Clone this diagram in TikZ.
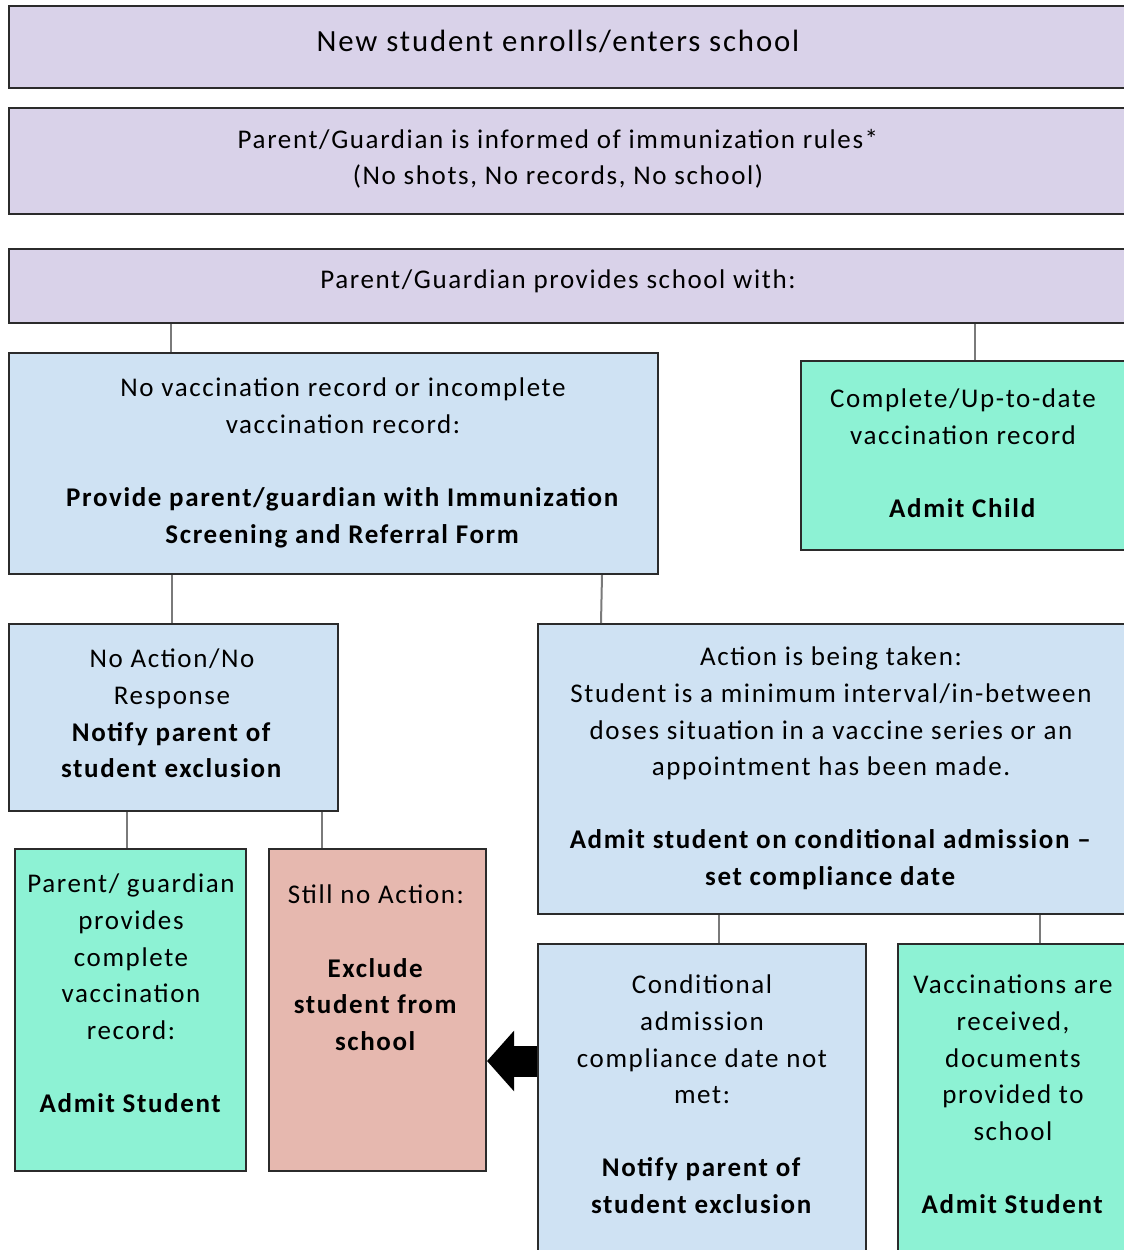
\documentclass[tikz,border=0pt]{standalone}
\usepackage{fontspec}
\setmainfont{Carlito}[LetterSpace=6]
\usetikzlibrary{arrows.meta}
\definecolor{lav}{HTML}{D9D2E9}
\definecolor{pale}{HTML}{CFE2F3}
\definecolor{mint}{HTML}{8DF2D4}
\definecolor{rose}{HTML}{E6B8AF}
\definecolor{boxline}{HTML}{2B2B2B}
\definecolor{linkgray}{HTML}{7A7A7A}
\begin{document}
\begin{tikzpicture}[x=1pt,y=-1pt,
  box/.style={draw=boxline, line width=2pt, inner sep=0pt, anchor=north west},
  txt/.style={align=center, inner sep=0pt, anchor=north, font=\fontsize{27}{36.6}\selectfont},
  link/.style={draw=linkgray, line width=2pt}]
\clip (0,0) rectangle (1124,1250);
\fill[white] (0,0) rectangle (1124,1250);

% boxes
\node[box, fill=lav,  minimum width=1140pt, minimum height=82pt]  (b1)  at (8,5) {};
\node[box, fill=lav,  minimum width=1140pt, minimum height=106pt] (b2)  at (8,107) {};
\node[box, fill=lav,  minimum width=1140pt, minimum height=74pt]  (b3)  at (8,248) {};
\node[box, fill=pale, minimum width=649pt,  minimum height=221pt] (b4)  at (8,352) {};
\node[box, fill=mint, minimum width=340pt,  minimum height=189pt] (b5)  at (800,360) {};
\node[box, fill=pale, minimum width=329pt,  minimum height=187pt] (b6)  at (8,623) {};
\node[box, fill=pale, minimum width=600pt,  minimum height=290pt] (b7)  at (537,623) {};
\node[box, fill=mint, minimum width=231pt,  minimum height=322pt] (b8)  at (14,848) {};
\node[box, fill=rose, minimum width=217pt,  minimum height=322pt] (b9)  at (268,848) {};
\node[box, fill=pale, minimum width=328pt,  minimum height=330pt] (b10) at (537,943) {};
\node[box, fill=mint, minimum width=240pt,  minimum height=330pt] (b11) at (897,943) {};

% connectors
\draw[link] (b3.south -| 171,0) -- (b4.north -| 171,0);
\draw[link] (b3.south -| 975,0) -- (b5.north -| 975,0);
\draw[link] (b4.south -| 172,0) -- (b6.north -| 172,0);
\draw[link] (b4.south -| 602,0) -- (b7.north -| 601,0);
\draw[link] (b6.south -| 127,0) -- (b8.north -| 127,0);
\draw[link] (b6.south -| 322,0) -- (b9.north -| 322,0);
\draw[link] (b7.south -| 719,0) -- (b10.north -| 719,0);
\draw[link] (b7.south -| 1040,0) -- (b11.north -| 1040,0);

% block arrow
\draw[-{Triangle[length=27pt,width=59pt]}, line width=31pt, black]
  (b10.west |- 0,1061) -- (b9.east |- 0,1061);

% texts
\node[txt, font=\fontsize{30.8}{36.6}\selectfont] (t1) at (558,30) {New student enrolls/enters school};
\node[txt] (t2) at (558,129) {Parent/Guardian is informed of immunization rules*\\(No shots, No records, No school)};
\node[txt] (t3) at (558,270) {Parent/Guardian provides school with:};
\node[txt] (t4) at (343,378) {No vaccination record or incomplete\\vaccination record:\\[36.6pt]
  \textbf{Provide parent/guardian with Immunization}\\\textbf{Screening and Referral Form}};
\node[txt] (t5) at (963,389) {Complete/Up-to-date\\vaccination record\\[36.6pt]\textbf{Admit Child}};
\node[txt] (t6) at (172,649) {No Action/No\\Response\\\textbf{Notify parent of}\\\textbf{student exclusion}};
\node[txt] (t7) at (831,647) {Action is being taken:\\Student is a minimum interval/in-between\\doses situation in a vaccine series or an\\appointment has been made.\\[36.6pt]
  \textbf{Admit student on conditional admission --}\\\textbf{set compliance date}};
\node[txt] (t8) at (131,874) {Parent/ guardian\\provides\\complete\\vaccination\\record:\\[36.6pt]\textbf{Admit Student}};
\node[txt] (t9) at (376,885) {Still no Action:\\[36.6pt]\textbf{Exclude}\\\textbf{student from}\\\textbf{school}};
\node[txt] (t10) at (702,975) {Conditional\\admission\\compliance date not\\met:\\[36.6pt]\textbf{Notify parent of}\\\textbf{student exclusion}};
\node[txt] (t11) at (1013,975) {Vaccinations are\\received,\\documents\\provided to\\school\\[36.6pt]\textbf{Admit Student}};
\end{tikzpicture}
\end{document}
